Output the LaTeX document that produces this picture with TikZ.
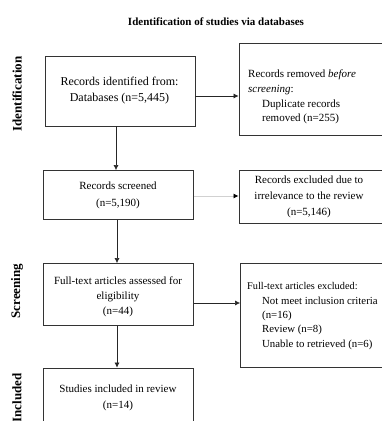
\documentclass[tikz,border=0pt]{standalone}
\usepackage{fontspec}
\setmainfont{Liberation Serif}
\usetikzlibrary{arrows.meta}
\begin{document}
\begin{tikzpicture}[x=1pt,y=-1pt,
  box/.style={draw=black!80, line width=0.9pt, rectangle, inner sep=0pt},
  txt/.style={inner sep=0pt, font=\fontsize{11}{14.7}\selectfont},
  side/.style={inner sep=0pt, rotate=90, font=\fontsize{13}{15}\selectfont\bfseries},
  arr/.style={draw=black!85, line width=0.6pt, -{Latex[length=5pt,width=5pt]}},
  arrg/.style={draw=black!18, line width=0.8pt, -{Latex[length=5pt,width=5pt,fill=black,color=black]}}]
\clip (0,0) rectangle (382,421);
\fill[white] (0,0) rectangle (382,421);
% title
\node[inner sep=0pt, font=\fontsize{11}{13}\selectfont\bfseries] (title) at (216,22) {Identification of studies via databases};
% side labels
\node[side] (sid) at (17,94) {Identification};
\node[side] (sscr) at (17,291) {Screening};
\node[side] (sinc) at (17,398) {Included};
% left boxes
\node[box, minimum width=150pt, minimum height=70pt] (b1) at (120,91) {};
\node[box, minimum width=150pt, minimum height=49pt] (b2) at (118.5,195) {};
\node[box, minimum width=150pt, minimum height=62pt] (b3) at (118.5,294.5) {};
\node[box, minimum width=150pt, minimum height=72pt] (b4) at (118.5,404) {};
% right boxes
\node[box, minimum width=156pt, minimum height=92pt] (r1) at (317,89) {};
\node[box, minimum width=156pt, minimum height=53pt] (r2) at (317,196.5) {};
\node[box, minimum width=156pt, minimum height=104pt] (r3) at (318.5,315.5) {};
% texts
\node[txt, align=center, font=\fontsize{12}{16.5}\selectfont] (t1) at (119.5,90.5) {Records identified from:\\Databases (n=5,445)};
\node[txt, align=center, font=\fontsize{11}{16.5}\selectfont] (t2) at (118,195.5) {Records screened\\(n=5,190)};
\node[txt, align=center, font=\fontsize{11}{15}\selectfont] (t3) at (118,297) {Full-text articles assessed for\\eligibility\\(n=44)};
\node[txt, align=center, font=\fontsize{11}{16.5}\selectfont] (t4) at (118,398) {Studies included in review\\(n=14)};
\node[txt, align=left, anchor=west] (u1) at (248,97) {Records removed \textit{before}\\\textit{screening}:\\\hspace{14pt}Duplicate records\\\hspace{14pt}removed (n=255)};
\node[txt, align=center, font=\fontsize{11}{16}\selectfont] (u2) at (309,197) {Records excluded due to\\irrelevance to the review\\(n=5,146)};
\node[txt, align=left, anchor=west, font=\fontsize{10.8}{14.4}\selectfont] (u3) at (247,316) {{\fontsize{10.3}{14.4}\selectfont Full-text articles excluded:}\\\hspace{15pt}Not meet inclusion criteria\\\hspace{15pt}(n=16)\\\hspace{15pt}Review (n=8)\\\hspace{15pt}Unable to retrieved (n=6)};
% connectors
\draw[arr] (b1.east |- 0,96) -- (r1.west |- 0,96);
\draw[arrg] (b2.east |- 0,196) -- (r2.west |- 0,196);
\draw[arr] (b3.east |- 0,303) -- (r3.west |- 0,303);
\draw[arr] (b1.south -| 116,0) -- (b2.north -| 116,0);
\draw[arr] (b2.south -| 117,0) -- (b3.north -| 117,0);
\draw[arr] (b3.south -| 117,0) -- (b4.north -| 117,0);
\end{tikzpicture}
\end{document}
